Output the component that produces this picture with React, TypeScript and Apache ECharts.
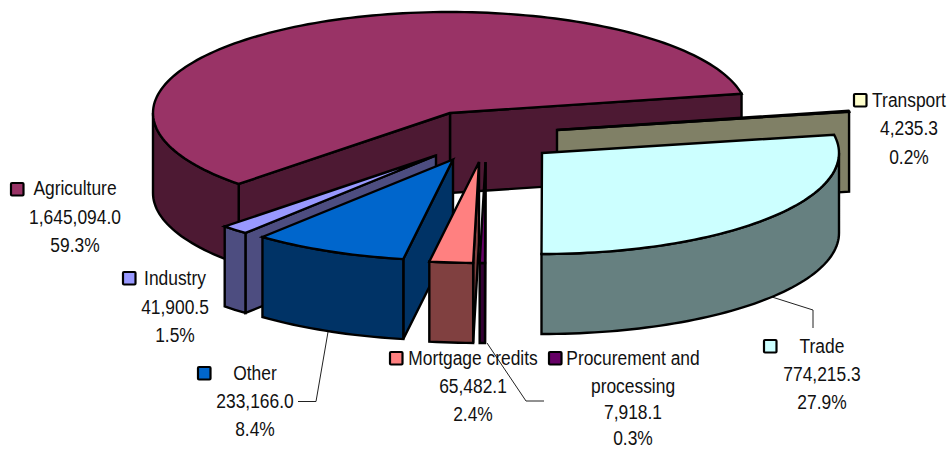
import React, { useEffect, useRef } from "react";
import * as echarts from "echarts";

// Data, clockwise from the right-hand edge of the Agriculture slice
const categories = ["Transport", "Trade", "Procurement and processing", "Mortgage credits", "Other", "Industry", "Agriculture"];
const values = [4235.3, 774215.3, 7918.1, 65482.1, 233166.0, 41900.5, 1645094.0];
const topColors = ["#FFFFCC", "#CCFFFF", "#660066", "#FF8080", "#0066CC", "#9999FF", "#993366"];
const sideColors = ["#808066", "#668080", "#330033", "#804040", "#003366", "#4D4D80", "#4D1933"];

// Pie layout (style, not data)
const START_ANGLE = 79;
const CX = 450;
const CY = 113;
const RX = 297;
const RY = 101;
const DEPTH = 80;
const explode: [number, number][] = [[107, 17], [92, 40], [35.5, 49], [29, 49], [3, 46.5], [-14, 42.5], [0, 0]];
const paintOrder = [6, 0, 1, 5, 4, 3, 2];

// Label layout: key box left/top, text centre x, y of each line
const labelLayout = [
  { key: [853, 93], cx: 909, ys: [100, 128, 157], names: ["Transport"] },
  { key: [763, 339], cx: 822, ys: [346, 374, 402], names: ["Trade"] },
  { key: [548, 351], cx: 633, ys: [358, 386, 412, 438], names: ["Procurement and", "processing"] },
  { key: [389, 351], cx: 473, ys: [358, 386, 414], names: ["Mortgage credits"] },
  { key: [197, 366], cx: 255, ys: [373, 401, 429], names: ["Other"] },
  { key: [122, 271], cx: 175, ys: [278, 307, 335], names: ["Industry"] },
  { key: [10, 182], cx: 75, ys: [188, 217, 245], names: ["Agriculture"] },
];
const leaders = [
  [[772, 297], [813, 310], [813, 328]],
  [[328, 332], [316, 401.5], [298, 401.5]],
  [[487, 343], [526, 401], [544, 401]],
];

const FONT = "'Liberation Sans', Arial, sans-serif";
const total = values.reduce((a, b) => a + b, 0);
const sweeps = values.map((v) => (v / total) * 360);
const starts = sweeps.map((_, i) => START_ANGLE + sweeps.slice(0, i).reduce((a, b) => a + b, 0));

const pt = (ox: number, oy: number, deg: number, dz = 0): number[] => {
  const t = (deg * Math.PI) / 180;
  return [ox + RX * Math.sin(t), oy - RY * Math.cos(t) + dz];
};

const arcPoints = (ox: number, oy: number, a: number, b: number, dz = 0): number[][] => {
  const pts: number[][] = [];
  const n = Math.max(2, Math.ceil(Math.abs(b - a) / 1.5));
  for (let k = 0; k <= n; k++) pts.push(pt(ox, oy, a + ((b - a) * k) / n, dz));
  return pts;
};

const stroke = { stroke: "#000", lineWidth: 2.4, lineJoin: "miter" as const, miterLimit: 4 };

const renderSlice = (params: any) => {
  const i = paintOrder[params.dataIndex];
  const a = starts[i];
  const b = a + sweeps[i];
  const ox = CX + explode[i][0];
  const oy = CY + explode[i][1];
  const children: any[] = [];
  const poly = (points: number[][], fill: string) =>
    children.push({ type: "polygon", shape: { points }, style: { fill, ...stroke } });

  const visible = (normal: number) => Math.cos((normal * Math.PI) / 180) < 0;
  const radialFace = (deg: number) => {
    const p = pt(ox, oy, deg);
    const q = pt(ox, oy, deg, DEPTH);
    poly([[ox, oy], p, q, [ox, oy + DEPTH]], sideColors[i]);
  };
  if (visible(b + 90)) radialFace(b);
  if (visible(a - 90)) radialFace(a);

  // outer wall: the part of the rim that faces the viewer
  const ranges: [number, number][] = [];
  for (const shift of [0, 360]) {
    const lo = Math.max(a, 90 + shift);
    const hi = Math.min(b, 270 + shift);
    if (hi > lo) ranges.push([lo, hi]);
  }
  ranges.forEach(([lo, hi]) => {
    poly([...arcPoints(ox, oy, lo, hi), ...arcPoints(ox, oy, hi, lo, DEPTH)], sideColors[i]);
  });

  poly([[ox, oy], ...arcPoints(ox, oy, a, b)], topColors[i]);
  return { type: "group", children };
};

const textEl = (text: string, x: number, y: number) => ({
  type: "text",
  x,
  y,
  scaleX: 0.87,
  silent: true,
  style: { text, fontSize: 20, lineHeight: 16, fontFamily: FONT, fill: "#111", align: "center", verticalAlign: "middle" },
});

const buildGraphics = () => {
  const out: any[] = [];
  leaders.forEach((points) =>
    out.push({ type: "polyline", shape: { points }, silent: true, style: { stroke: "#222", lineWidth: 1, fill: "none" } })
  );
  labelLayout.forEach((l, i) => {
    out.push({
      type: "rect",
      silent: true,
      shape: { x: l.key[0] + 1, y: l.key[1] + 1, width: 12.5, height: 12.5, r: 1 },
      style: { fill: topColors[i], stroke: "#000", lineWidth: 2.2 },
    });
    const lines = [
      ...l.names,
      values[i].toLocaleString("en-US", { minimumFractionDigits: 1, maximumFractionDigits: 1 }),
      ((values[i] / total) * 100).toFixed(1) + "%",
    ];
    lines.forEach((t, k) => out.push(textEl(t, l.cx, l.ys[k])));
  });
  return out;
};

export default function App() {
  const ref = useRef<HTMLDivElement>(null);
  useEffect(() => {
    document.body.style.margin = "0";
    const chart = echarts.init(ref.current!, undefined, { renderer: "svg" });
    chart.setOption({
      animation: false,
      backgroundColor: "#fff",
      series: [
        {
          type: "custom",
          coordinateSystem: "none",
          silent: true,
          data: paintOrder.map((i) => ({ name: categories[i], value: values[i] })),
          renderItem: renderSlice,
        },
      ],
      graphic: { elements: buildGraphics() },
    });
    return () => chart.dispose();
  }, []);
  return <div ref={ref} style={{ width: 949, height: 450 }} />;
}
